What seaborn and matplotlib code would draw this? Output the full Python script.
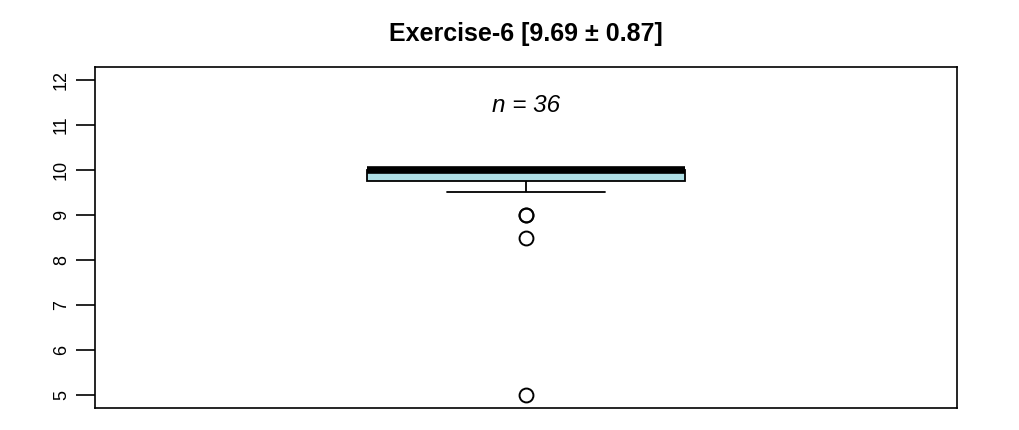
import numpy as np
import pandas as pd
import seaborn as sns
import matplotlib.pyplot as plt

# scores (36 values)
score_values = [5.0, 8.5, 9.0, 9.5, 9.75, 10.0]
score_counts = [1, 1, 2, 4, 2, 26]
scores = pd.Series(np.repeat(score_values, score_counts), name='score')

y_ticks = [5, 6, 7, 8, 9, 10, 11, 12]
titulo = 'Exercise-6 [9.69 \u00b1 0.87]'
rotulo_n = 'n = 36'

sns.set_style('ticks')
plt.rcParams['font.family'] = ['Liberation Sans', 'DejaVu Sans']
plt.rcParams['text.color'] = 'black'

fig = plt.figure(figsize=(10.2, 4.3), dpi=100)
ax = fig.add_axes([95 / 1020, 1 - 408 / 430, 862 / 1020, 341 / 430])

sns.boxplot(y=scores, ax=ax, color='#B0E0E6', saturation=1, width=0.8,
            linecolor='black', linewidth=1.3,
            medianprops=dict(linewidth=5.5, color='black', solid_capstyle='butt'),
            flierprops=dict(marker='o', markersize=10, markerfacecolor='none',
                            markeredgecolor='black', markeredgewidth=1.4))

# texto n
ax.text(0, 11.42, rotulo_n, style='italic', ha='center', va='center',
        fontsize=17.5, color='black')

ax.set_xlim(-1.085, 1.085)
ax.set_ylim(4.72, 12.28)
ax.set_xticks([])
ax.set_yticks(y_ticks)
ax.set_yticklabels([str(t) for t in y_ticks], rotation=90, va='center')
ax.tick_params(axis='y', length=14, width=1.2, labelsize=13, pad=4,
               colors='black', labelcolor='black')
ax.set_xlabel('')
ax.set_ylabel('')
for s in ax.spines.values():
    s.set_visible(True)
    s.set_color('black')
    s.set_linewidth(1.2)

ax.set_title(titulo, fontsize=18, fontweight='bold', pad=19, color='black')

fig.savefig('out.png', dpi=100)
